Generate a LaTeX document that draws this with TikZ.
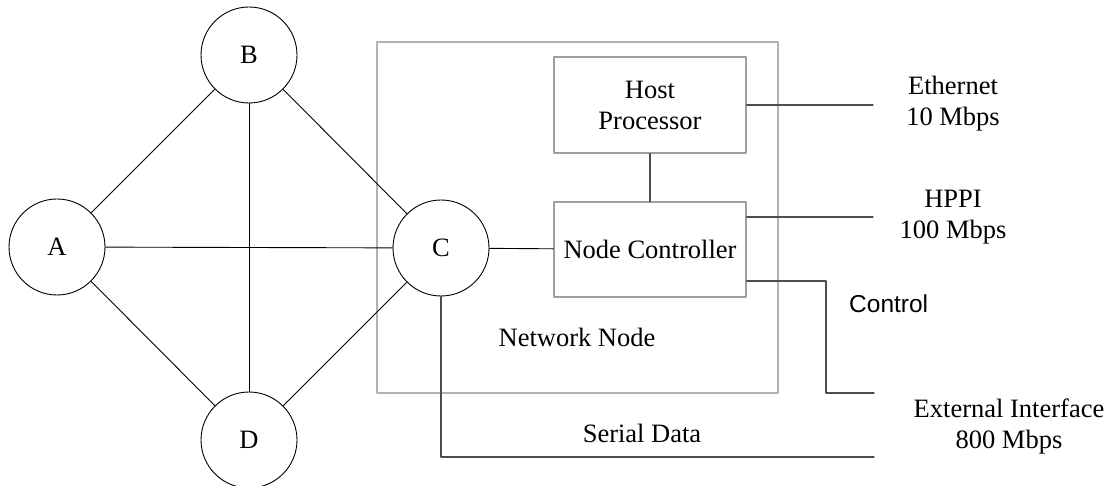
\documentclass[tikz,border=0pt]{standalone}
\usepackage{fontspec}
\setmainfont{Liberation Serif}
\newfontfamily\sansfont{Liberation Sans}
\usepackage{tikz}

\begin{document}
\begin{tikzpicture}[x=1pt, y=-1pt, line join = round, line cap = round,
    txt/.style={font=\fontsize{26.5}{31}\selectfont, align=center, inner sep=0pt},
    peer/.style={draw, circle, minimum size=96pt, inner sep=0pt, line width=0.9pt, txt},
    unit/.style={draw=gray!75, line width=1.3pt, minimum width=192pt, txt},
    wire/.style={draw=black!70, line width=1.1pt}]
    \useasboundingbox (0,0) rectangle (1109,486);

    % network node enclosure
    \draw[gray!60, line width=1.3pt] (377,42) rectangle (778,393);

    \node[peer] (A) at (57,247) {A};
    \node[peer] (B) at (249,55) {B};
    \node[peer] (C) at (441,248) {C};
    \node[peer] (D) at (249,440) {D};

    \node[unit, minimum height=96pt] (host) at (650,105) {Host\\Processor};
    \node[unit, minimum height=95pt] (nc) at (650,249.5) {Node Controller};

    \coordinate (eth) at (873,105);
    \coordinate (hppi) at (873,217);
    \coordinate (ctl) at (826,281);
    \coordinate (ext) at (874,393);
    \coordinate (ser) at (874,457);

    % links between peers
    \draw[line width=0.9pt] (A)--(B)--(C)--(D)--(A);
    \draw[line width=0.9pt] (A)--(C);
    \draw[line width=0.9pt] (B)--(D);
    \draw[line width=0.9pt] (C)--(nc);

    \draw[wire] (host)--(nc);
    \draw[wire] (host.east)--(eth);
    \draw[wire] (nc.east |- hppi)--(hppi);
    \draw[wire] (nc.east |- ctl)--(ctl) |- (ext);
    \draw[wire] (C.south) |- (ser);

    \node[txt] at (953,104) {Ethernet\\10 Mbps};
    \node[txt] at (953,217) {HPPI\\100 Mbps};
    \node[txt, font=\sansfont\fontsize{24.5}{29}\selectfont, anchor=west] at (849,304) {Control};
    \node[txt] at (1009,426) {External Interface\\800 Mbps};
    \node[txt] at (577,337) {Network Node};
    \node[txt] at (642,433) {Serial Data};
\end{tikzpicture}
\end{document}
